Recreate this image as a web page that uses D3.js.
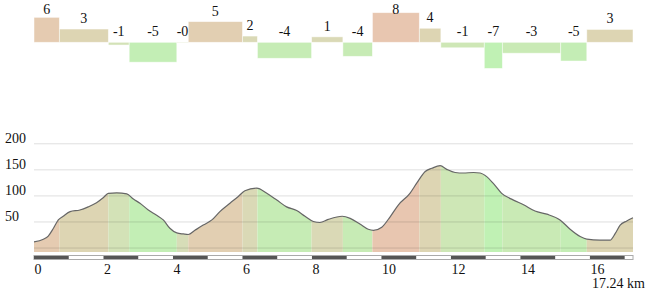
<!DOCTYPE html>
<html>
<head>
<meta charset="utf-8">
<script src="https://cdn.jsdelivr.net/npm/d3@7"></script>
<style>
  body { margin: 0; background: #fff; }
  text { font-family: "Liberation Serif", "Times New Roman", serif; font-size: 14px; fill: #111; }
</style>
</head>
<body>
<div id="chart"></div>
<script>
// segment boundaries (km) and slope (%) per segment
var segBounds = [0, 0.73, 2.14, 2.74, 4.11, 4.44, 6.00, 6.43, 7.99, 8.89, 9.74, 11.09, 11.71, 12.96, 13.48, 15.16, 15.91, 17.24];
var slopes = [6.4, 3.4, -0.7, -5.1, -0.1, 5.3, 1.6, -4.1, 1.4, -3.6, 7.6, 3.6, -1.4, -6.7, -2.8, -4.8, 3.3];

// elevation profile
var distKm = [0, 0.27, 0.41, 0.56, 0.70, 0.84, 1.04, 1.32, 1.56, 1.80, 2.00, 2.14, 2.38, 2.67, 2.86, 3.05, 3.29, 3.53, 3.72, 3.91,
  4.11, 4.30, 4.44, 4.63, 4.87, 5.12, 5.35, 5.64, 5.88, 6.07, 6.41, 6.70, 6.99, 7.27, 7.56, 7.80, 8.04, 8.23, 8.47, 8.87,
  9.10, 9.38, 9.62, 9.77, 10.01, 10.25, 10.49, 10.82, 11.02, 11.26, 11.45, 11.69, 11.88, 12.12, 12.36, 12.65, 12.84, 13.03, 13.22, 13.46,
  13.80, 14.09, 14.42, 14.76, 15.14, 15.43, 15.72, 15.91, 16.29, 16.58, 16.73, 16.87, 17.06, 17.24];
var elevation = [11, 16, 22, 37, 53, 60, 69, 72, 78, 86, 96, 104, 105, 103, 93, 85, 72, 62, 53, 37,
  28, 26, 25, 33, 43, 53, 69, 85, 98, 109, 114, 104, 91, 78, 71, 60, 50, 48, 54, 60,
  56, 45, 35, 33, 39, 59, 82, 104, 124, 146, 152, 157, 150, 144, 143, 144, 143, 136, 123, 104,
  91, 82, 70, 64, 53, 35, 21, 16, 14, 14, 27, 43, 51, 57];

var yTicks = [50, 100, 150, 200];
var gridValues = [0, 50, 100, 150, 200];
var xTicks = [0, 2, 4, 6, 8, 10, 12, 14, 16];
var totalKm = 17.24;

var svgWidth = 650, svgHeight = 292;
var svg = d3.select("#chart").append("svg")
  .attr("width", svgWidth)
  .attr("height", svgHeight);

var x = d3.scaleLinear().domain([0, totalKm]).range([34, 633]);

// colour by slope
var color = d3.scaleLinear()
  .domain([-7, -4, -1.5, 0, 3.5, 8])
  .range(["#bff1b4", "#c6ecb5", "#cde8b6", "#d8dcb8", "#ddd5b3", "#e9c5b0"])
  .clamp(true);

var segs = slopes.map(function(s, i) {
  return { slope: s, x0: segBounds[i], x1: segBounds[i + 1] };
});

function slopeLabel(v) {
  return (v < 0 ? "-" : "") + Math.round(Math.abs(v));
}

// ---- top slope bars ----
var ySlope = d3.scaleLinear().domain([-8, 8]).range([73.5, 11.1]);

var slopeGroup = svg.append("g");
slopeGroup.selectAll("rect")
  .data(segs)
  .enter()
  .append("rect")
  .attr("x", d => x(d.x0))
  .attr("width", d => x(d.x1) - x(d.x0))
  .attr("y", d => Math.min(ySlope(d.slope), ySlope(0)))
  .attr("height", d => Math.max(0.6, Math.abs(ySlope(d.slope) - ySlope(0))))
  .attr("fill", d => color(d.slope))
  .attr("stroke", "#fff")
  .attr("stroke-opacity", 0.6)
  .attr("stroke-width", 0.8);

slopeGroup.selectAll("text")
  .data(segs)
  .enter()
  .append("text")
  .attr("x", d => (x(d.x0) + x(d.x1)) / 2)
  .attr("y", d => Math.max(13.5, Math.min(ySlope(d.slope), ySlope(0)) - 6))
  .attr("text-anchor", "middle")
  .text(d => slopeLabel(d.slope));

// ---- elevation profile ----
var y = d3.scaleLinear().domain([-8.6, 200]).range([252, 143.3]);

var profile = distKm.map((d, i) => ({ km: d, ele: elevation[i] }));

var area = d3.area()
  .x(d => x(d.km))
  .y0(y(-8.6))
  .y1(d => y(d.ele))
  .curve(d3.curveMonotoneX);

var line = d3.line()
  .x(d => x(d.km))
  .y(d => y(d.ele))
  .curve(d3.curveMonotoneX);

svg.append("clipPath")
  .attr("id", "profileClip")
  .append("path")
  .attr("d", area(profile));

svg.append("g")
  .attr("clip-path", "url(#profileClip)")
  .selectAll("rect")
  .data(segs)
  .enter()
  .append("rect")
  .attr("x", d => x(d.x0))
  .attr("width", d => x(d.x1) - x(d.x0))
  .attr("y", y(200))
  .attr("height", y(-8.6) - y(200))
  .attr("fill", d => color(d.slope));

// gridlines over the area
svg.append("g").selectAll("line")
  .data(gridValues)
  .enter()
  .append("line")
  .attr("x1", x(0))
  .attr("x2", x(totalKm))
  .attr("y1", d => y(d) + 0.5)
  .attr("y2", d => y(d) + 0.5)
  .attr("stroke", "#000")
  .attr("stroke-opacity", 0.13);

svg.append("path")
  .attr("d", line(profile))
  .attr("fill", "none")
  .attr("stroke", "#666")
  .attr("stroke-width", 1.2);

// y labels
svg.append("g").selectAll("text")
  .data(yTicks)
  .enter()
  .append("text")
  .attr("x", 5)
  .attr("y", d => y(d))
  .text(d => d);

// distance scale bar
var kmSteps = d3.range(0, Math.ceil(totalKm));
var bar = svg.append("g");
bar.append("rect")
  .attr("x", x(0))
  .attr("y", 255.5)
  .attr("width", x(totalKm) - x(0))
  .attr("height", 4)
  .attr("fill", "#fff")
  .attr("stroke", "#aaa")
  .attr("stroke-width", 1);
bar.selectAll(".dark")
  .data(kmSteps.filter(k => k % 2 === 0))
  .enter()
  .append("rect")
  .attr("class", "dark")
  .attr("x", k => x(k))
  .attr("width", k => x(Math.min(k + 1, totalKm)) - x(k))
  .attr("y", 256)
  .attr("height", 3)
  .attr("fill", "#555");

// x labels
svg.append("g").selectAll("text")
  .data(xTicks)
  .enter()
  .append("text")
  .attr("x", d => x(d) + 0.5)
  .attr("y", 274)
  .text(d => d);

svg.append("text")
  .attr("x", x(totalKm) + 12)
  .attr("y", 288)
  .attr("text-anchor", "end")
  .text(totalKm + " km");
</script>
</body>
</html>
